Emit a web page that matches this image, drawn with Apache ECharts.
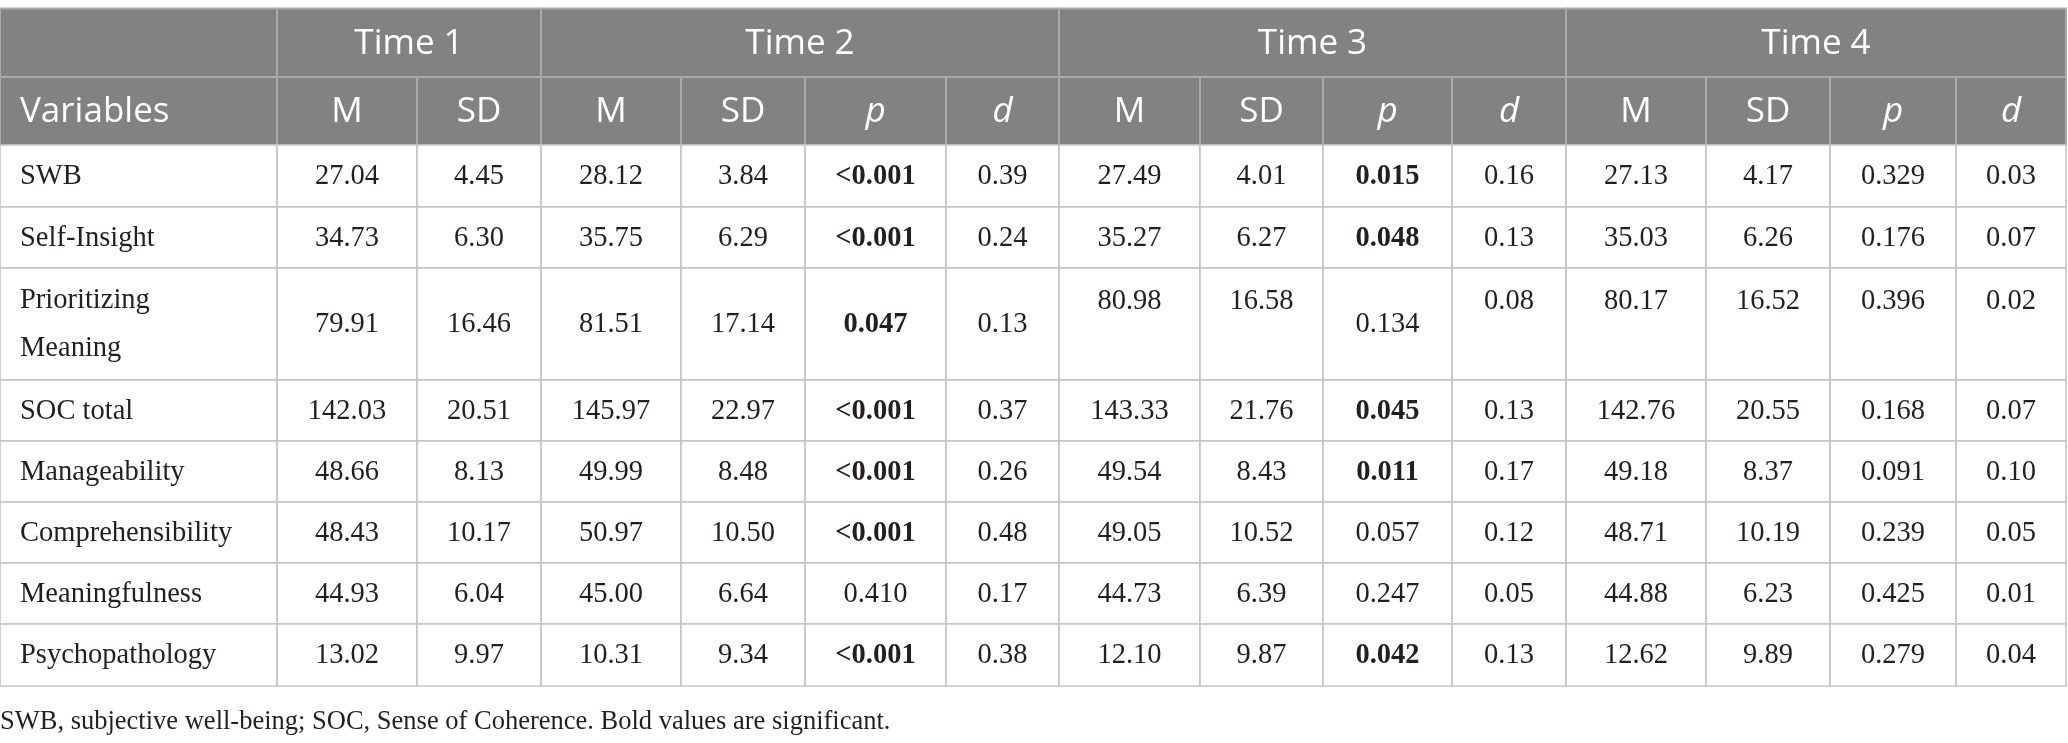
<!DOCTYPE html>
<html>
<head>
<meta charset="utf-8">
<title>Table</title>
<script src="https://cdn.jsdelivr.net/npm/echarts@6/dist/echarts.min.js"></script>
<style>
html, body { margin: 0; padding: 0; background: #fff; }
#chart { width: 2068px; height: 743px; }
</style>
</head>
<body>
<div id="chart"></div>
<script>
// table content
const variables = ['SWB', 'Self-Insight', 'Prioritizing\nMeaning', 'SOC total', 'Manageability', 'Comprehensibility', 'Meaningfulness', 'Psychopathology'];
const timeLabels = ['Time 1', 'Time 2', 'Time 3', 'Time 4'];
const subHeaders = ['Variables', 'M', 'SD', 'M', 'SD', 'p', 'd', 'M', 'SD', 'p', 'd', 'M', 'SD', 'p', 'd'];

const t1M = ['27.04', '34.73', '79.91', '142.03', '48.66', '48.43', '44.93', '13.02'];
const t1SD = ['4.45', '6.30', '16.46', '20.51', '8.13', '10.17', '6.04', '9.97'];
const t2M = ['28.12', '35.75', '81.51', '145.97', '49.99', '50.97', '45.00', '10.31'];
const t2SD = ['3.84', '6.29', '17.14', '22.97', '8.48', '10.50', '6.64', '9.34'];
const t2p = ['<0.001', '<0.001', '0.047', '<0.001', '<0.001', '<0.001', '0.410', '<0.001'];
const t2d = ['0.39', '0.24', '0.13', '0.37', '0.26', '0.48', '0.17', '0.38'];
const t3M = ['27.49', '35.27', '80.98', '143.33', '49.54', '49.05', '44.73', '12.10'];
const t3SD = ['4.01', '6.27', '16.58', '21.76', '8.43', '10.52', '6.39', '9.87'];
const t3p = ['0.015', '0.048', '0.134', '0.045', '0.011', '0.057', '0.247', '0.042'];
const t3d = ['0.16', '0.13', '0.08', '0.13', '0.17', '0.12', '0.05', '0.13'];
const t4M = ['27.13', '35.03', '80.17', '142.76', '49.18', '48.71', '44.88', '12.62'];
const t4SD = ['4.17', '6.26', '16.52', '20.55', '8.37', '10.19', '6.23', '9.89'];
const t4p = ['0.329', '0.176', '0.396', '0.168', '0.091', '0.239', '0.425', '0.279'];
const t4d = ['0.03', '0.07', '0.02', '0.07', '0.10', '0.05', '0.01', '0.04'];

const footnote = 'SWB, subjective well-being; SOC, Sense of Coherence. Bold values are significant.';

// layout (px in table units)
const colWidths = [277, 140, 124, 140, 124, 141, 113, 141, 123, 129, 114, 140, 124, 126, 110];
const rowHeights = [68.5, 68, 62, 61, 112, 61, 61, 61, 61, 62];
const tableTop = 8.5;
const groupSpans = [[1, 3], [3, 7], [7, 11], [11, 15]];
const pCols = [5, 9, 13];
// cells of the two-line row that sit on the first line in the original
const topAligned = { 2: [7, 8, 10, 11, 12, 13, 14] };

const columns = [variables, t1M, t1SD, t2M, t2SD, t2p, t2d, t3M, t3SD, t3p, t3d, t4M, t4SD, t4p, t4d];

let xEdges = [0];
colWidths.forEach(w => xEdges.push(xEdges[xEdges.length - 1] + w));
let yEdges = [tableTop];
rowHeights.forEach(h => yEdges.push(yEdges[yEdges.length - 1] + h));

const HEAD_FONT = '"Open Sans", sans-serif';
const BODY_FONT = '"Liberation Serif", "DejaVu Serif", serif';

function isSignificant(p) {
    return parseFloat(p.replace('<', '')) < 0.05;
}

// build cell list
let cells = [];
// header row 1
cells.push({ c0: 0, c1: 1, r0: 0, r1: 1, head: true, text: '' });
groupSpans.forEach((s, i) => {
    cells.push({ c0: s[0], c1: s[1], r0: 0, r1: 1, head: true, text: timeLabels[i] });
});
// header row 2
subHeaders.forEach((t, c) => {
    cells.push({ c0: c, c1: c + 1, r0: 1, r1: 2, head: true, text: t, italic: t === 'p' || t === 'd', left: c === 0 });
});
// body
variables.forEach((v, r) => {
    columns.forEach((col, c) => {
        let txt = col[r];
        cells.push({
            c0: c, c1: c + 1, r0: r + 2, r1: r + 3,
            head: false,
            text: txt,
            left: c === 0,
            bold: pCols.indexOf(c) >= 0 && isSignificant(txt),
            top: (topAligned[r] || []).indexOf(c) >= 0
        });
    });
});

function renderCell(params, api) {
    let cell = cells[params.dataIndex];
    let p0 = api.coord([xEdges[cell.c0], yEdges[cell.r0]]);
    let p1 = api.coord([xEdges[cell.c1], yEdges[cell.r1]]);
    let w = p1[0] - p0[0];
    let h = p1[1] - p0[1];
    let children = [{
        type: 'rect',
        shape: { x: p0[0], y: p0[1], width: w, height: h },
        style: cell.head
            ? { fill: '#818281', stroke: '#a9aaa9', lineWidth: 2 }
            : { fill: '#fff', stroke: '#c4c4c4', lineWidth: 1.6 }
    }];
    if (cell.text) {
        let ty = cell.top ? p0[1] + 34 : p0[1] + h / 2 + 1;
        children.push({
            type: 'text',
            style: {
                text: cell.text,
                x: cell.left ? p0[0] + 20 : p0[0] + w / 2,
                y: ty,
                align: cell.left ? 'left' : 'center',
                verticalAlign: 'middle',
                fill: cell.head ? '#fff' : '#231f20',
                fontFamily: cell.head ? HEAD_FONT : BODY_FONT,
                fontSize: cell.head ? 35 : 28.5,
                fontStyle: cell.italic ? 'italic' : 'normal',
                fontWeight: cell.bold ? 'bold' : 'normal',
                lineHeight: 48
            }
        });
    }
    return { type: 'group', children: children };
}

let chart = echarts.init(document.getElementById('chart'), null, { renderer: 'canvas' });

chart.setOption({
    animation: false,
    backgroundColor: '#fff',
    grid: { left: 0, right: 0, top: 0, bottom: 0 },
    xAxis: { type: 'value', min: 0, max: 2068, show: false },
    yAxis: { type: 'value', min: 0, max: 743, inverse: true, show: false },
    series: [{
        type: 'custom',
        renderItem: function (params, api) {
            return renderCell(params, api);
        },
        data: cells.map((c, i) => [xEdges[c.c0], yEdges[c.r0]]),
        clip: false,
        silent: true
    }],
    graphic: [{
        type: 'text',
        left: 0,
        top: 709,
        style: {
            text: footnote,
            fontFamily: BODY_FONT,
            fontSize: 26.5,
            fill: '#231f20'
        }
    }]
});
</script>
</body>
</html>
